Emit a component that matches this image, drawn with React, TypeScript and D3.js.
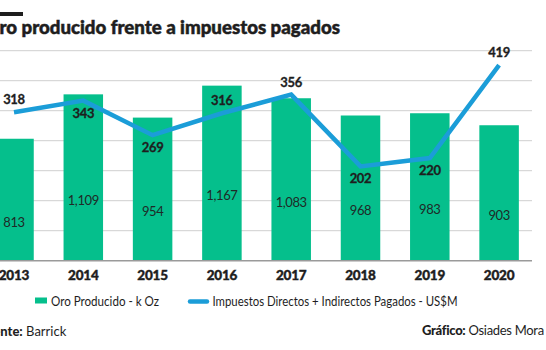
import React from 'react';
import * as d3 from 'd3';

const years = ['2013', '2014', '2015', '2016', '2017', '2018', '2019', '2020'];
const oroProducido = [813, 1109, 954, 1167, 1083, 968, 983, 903];
const impuestos = [318, 343, 269, 316, 356, 202, 220, 419];
// where the tax label sits relative to its point
const impuestosLabelSide = ['up', 'down', 'down', 'up', 'up', 'down', 'down', 'up'];
const gridTicks = [0, 200, 400, 600, 800, 1000, 1200, 1400];

const title = 'Oro producido frente a impuestos pagados';
const legendBar = 'Oro Producido - k Oz';
const legendLine = 'Impuestos Directos + Indirectos Pagados - US$M';

const GREEN = '#05bf8c';
const BLUE = '#1b9dd8';
const INK = '#1e1e1e';
const FONT = 'Lato, "Open Sans", sans-serif';

const App = () => {
  const width = 546;
  const height = 350;
  const baseline = 260.7;
  const top = 50.7;
  const gridRight = 532;

  const step = 69.3;
  const x = d3.scaleBand<string>()
    .domain(years)
    .range([14 - step / 2, 14 - step / 2 + step * years.length])
    .paddingInner(0.43)
    .paddingOuter(0.215);

  const yBar = d3.scaleLinear().domain([0, 1400]).range([baseline, top]);
  const yLine = d3.scaleLinear().domain([0, 450]).range([baseline, top]);

  const cx = (d: string) => (x(d) as number) + x.bandwidth() / 2;

  const line = d3.line<number>()
    .x((_, i) => cx(years[i]))
    .y(d => yLine(d));

  const fmt = d3.format(',');

  return (
    <svg width={width} height={height} style={{ position: 'absolute', left: 0, top: 0, display: 'block', background: '#fff' }} fontFamily={FONT}>
      {/* heading, cropped on the left like the source */}
      <rect x={-10} y={12} width={33} height={4} fill={INK} />
      <text x={-15.5} y={33.5} fontSize={18} fontWeight={900} fill={INK} stroke={INK} strokeWidth={0.5} textLength={355.5} lengthAdjust="spacingAndGlyphs">{title}</text>

      {/* grid */}
      {gridTicks.slice(1).map(t => (
        <line key={t} x1={-30} x2={gridRight} y1={yBar(t)} y2={yBar(t)} stroke="#cfcfcf" strokeWidth={1} />
      ))}

      {/* bars */}
      {years.map((yr, i) => (
        <rect key={yr} x={x(yr)} y={yBar(oroProducido[i])} width={x.bandwidth()} height={baseline - yBar(oroProducido[i])} fill={GREEN} />
      ))}

      <line x1={-30} x2={gridRight} y1={baseline} y2={baseline} stroke="#9a9a9a" strokeWidth={1.5} />

      {/* bar values */}
      {years.map((yr, i) => (
        <text key={yr} x={cx(yr)} y={yBar(oroProducido[i] / 2) + 22.7} dy="0.35em" textAnchor="middle" fontSize={13} fill="#1f2a27" letterSpacing={-0.4}>
          {fmt(oroProducido[i])}
        </text>
      ))}

      {/* tax line */}
      <path d={line(impuestos) || ''} fill="none" stroke={BLUE} strokeWidth={4.5} strokeLinejoin="miter" />

      {years.map((yr, i) => (
        <text key={yr} x={cx(yr)} y={yLine(impuestos[i]) + (impuestosLabelSide[i] === 'up' ? -12.5 : 12.5)} dy="0.35em" textAnchor="middle" fontSize={13} fontWeight={700} fill={INK} stroke={INK} strokeWidth={0.3} letterSpacing={-0.3}>
          {impuestos[i]}
        </text>
      ))}

      {/* x axis labels */}
      {years.map(yr => (
        <text key={yr} x={cx(yr)} y={275} dy="0.35em" textAnchor="middle" fontSize={13.5} fontWeight={900} fill={INK} stroke={INK} strokeWidth={0.4} letterSpacing={-0.2}>
          {yr}
        </text>
      ))}

      {/* legend */}
      <rect x={35} y={297.5} width={12} height={6} fill={GREEN} />
      <text x={51} y={301} dy="0.35em" fontSize={13} fill={INK} textLength={108} lengthAdjust="spacingAndGlyphs">{legendBar}</text>
      <line x1={190} x2={207} y1={301.5} y2={301.5} stroke={BLUE} strokeWidth={4.5} strokeLinecap="round" />
      <text x={212.5} y={301} dy="0.35em" fontSize={13} fill={INK} textLength={245} lengthAdjust="spacingAndGlyphs">{legendLine}</text>

      {/* footer, cropped at both edges like the source */}
      <text x={-21} y={331} dy="0.35em" fontSize={13} fill={INK}>
        <tspan fontWeight={900}>Fuente:</tspan>
        <tspan> Barrick</tspan>
      </text>
      <text x={422} y={330} dy="0.35em" fontSize={13} fill={INK} letterSpacing={-0.3}>
        <tspan fontWeight={900}>Gráfico:</tspan>
        <tspan> Osiades Mora Camacho</tspan>
      </text>
    </svg>
  );
};

export default App;
